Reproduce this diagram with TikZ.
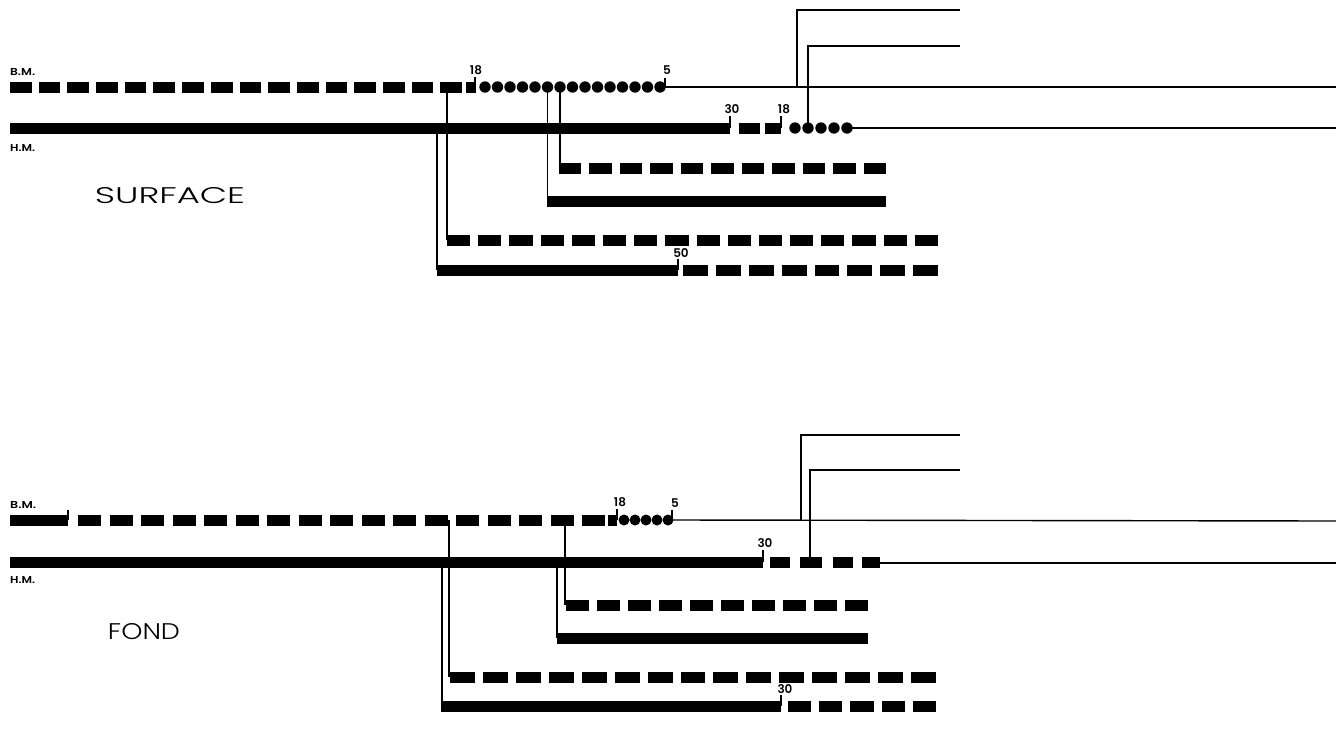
\documentclass[tikz,border=0pt]{standalone}
\usepackage{fontspec}
\newfontfamily\titlefont{Poppins}[UprightFont=* Light]
\newfontfamily\lblfont{Poppins}[UprightFont=* SemiBold]
\newcommand\dashrow[5]{% y, x0, x1, n, gap
  \pgfmathsetmacro\mydw{(#3-#2-(#4-1)*#5)/#4}
  \foreach \i in {1,...,#4}{%
    \pgfmathsetmacro\myxa{#2+(\i-1)*(\mydw+#5)}
    \fill[black] (\myxa,#1-5.5) rectangle ++(\mydw,11);
  }%
}
\tikzset{
  wire/.style={line width=1.4pt, black},
  ticks/.style={line width=1.2pt, black},
  lbl/.style={inner sep=0pt},
  num/.style={font=\lblfont\fontsize{12}{12}\selectfont, inner sep=0pt},
  ttl/.style={inner sep=0pt},
}
\begin{document}
\begin{tikzpicture}[x=1pt,y=-1pt]
\useasboundingbox (0,0) rectangle (1336,731);
\fill[white] (0,0) rectangle (1336,731);

% ================= SURFACE =================
\node[lbl, anchor=west] (bmA) at (10,72) {\resizebox{25pt}{7pt}{\lblfont B.M.}};
\node[lbl, anchor=west] (hmA) at (10,148) {\resizebox{25pt}{7pt}{\lblfont H.M.}};
\node[ttl] (surf) at (170,196) {\resizebox{150pt}{16pt}{\titlefont SURFACE}};

% B.M. line
\dashrow{87}{10}{462}{16}{7}
\fill (466,81.5) rectangle (476,92.5);
\coordinate (tA18) at (475,87);
\coordinate (tA18t) at (475,77);
\draw[ticks] (tA18) -- (tA18t);
\node[num, anchor=south] (nA18) at (476,75) {18};
\foreach \i in {0,...,14} \fill ({485+12.5*\i},87) circle (5.7);
\coordinate (tA5) at (665,87);
\coordinate (tA5t) at (665,78);
\draw[ticks] (tA5) -- (tA5t);
\node[num, anchor=south] (nA5) at (667,75) {5};
\coordinate (bmAend) at (1336,87);
\draw[wire] (tA5) -- (bmAend);

% H.M. line
\fill (10,122.5) rectangle (730,133.5);
\draw[ticks] (730,128) -- (730,116);
\node[num, anchor=south] (nA30) at (732,114) {30};
\fill (739,122.5) rectangle (760,133.5);
\fill (765,122.5) rectangle (781,133.5);
\draw[ticks] (781,128) -- (781,116);
\node[num, anchor=south] (nA18b) at (784,114) {18};
\foreach \x in {795,808,821,834,847} \fill (\x,128) circle (5.7);
\coordinate (hmAdot) at (847,128);
\coordinate (hmAend) at (1336,128);
\draw[wire] (hmAdot) -- (hmAend);

% right branches
\coordinate (rA1) at (797,87);  \coordinate (rA1e) at (960,10);
\coordinate (rA2) at (808,128); \coordinate (rA2e) at (960,46);
\draw[wire] (rA1) |- (rA1e);
\draw[wire] (rA2) |- (rA2e);

% lower branches
\coordinate (dA1) at (437,128); \coordinate (dA1e) at (437,270);
\draw[wire] (dA1) -- (dA1e);
\fill (437,264.5) rectangle (678,275.5);
\draw[ticks] (678,270) -- (678,259);
\node[num, anchor=south] (nA50) at (681,258) {50};
\dashrow{270}{683}{938}{8}{8}

\coordinate (dA2) at (447,87); \coordinate (dA2e) at (447,240);
\draw[wire] (dA2) -- (dA2e);
\dashrow{240}{447}{938}{16}{8}

\coordinate (dA3) at (547.5,87); \coordinate (dA3e) at (547.5,201);
\draw[wire] (dA3) -- (dA3e);
\fill (547,195.5) rectangle (886,206.5);

\coordinate (dA4) at (560,87); \coordinate (dA4e) at (560,168);
\draw[wire] (dA4) -- (dA4e);
\dashrow{168}{559}{886}{11}{8}

% ================= FOND =================
\node[lbl, anchor=west] (bmB) at (10,505) {\resizebox{26pt}{7pt}{\lblfont B.M.}};
\node[lbl, anchor=west] (hmB) at (10,580) {\resizebox{25pt}{7pt}{\lblfont H.M.}};
\node[ttl] (fond) at (144,632) {\resizebox{72pt}{16pt}{\titlefont FOND}};

% B.M. line
\fill (10,514.5) rectangle (68,525.5);
\draw[ticks] (68,520) -- (68,510);
\dashrow{520}{78}{605}{17}{8.5}
\fill (608,514.5) rectangle (617,525.5);
\draw[ticks] (617,520) -- (617,509);
\node[num, anchor=south] (nB18) at (620,507) {18};
\foreach \x in {624,635,646,657,668} \fill (\x,520) circle (5.5);
\coordinate (tB5) at (672,520);
\draw[ticks] (tB5) -- (672,510);
\node[num, anchor=south] (nB5) at (675,508) {5};
\coordinate (bmBend) at (1336,521);
\draw[wire] (tB5) -- (bmBend);

% H.M. line
\fill (10,556.5) rectangle (763,567.5);
\draw[ticks] (763,562) -- (763,550);
\node[num, anchor=south] (nB30) at (765,548) {30};
\fill (770,556.5) rectangle (790,567.5);
\fill (800,556.5) rectangle (822,567.5);
\fill (833,556.5) rectangle (853,567.5);
\fill (862,556.5) rectangle (880,567.5);
\coordinate (hmBdash) at (880,563);
\coordinate (hmBend) at (1336,563);
\draw[wire] (hmBdash) -- (hmBend);

% right branches
\coordinate (rB1) at (801,520);  \coordinate (rB1e) at (960,435);
\coordinate (rB2) at (810,562);  \coordinate (rB2e) at (960,470);
\draw[wire] (rB1) |- (rB1e);
\draw[wire] (rB2) |- (rB2e);

% lower branches
\coordinate (dB1) at (442,562); \coordinate (dB1e) at (442,706);
\draw[wire] (dB1) -- (dB1e);
\fill (441,700.5) rectangle (781,711.5);
\draw[ticks] (781,706) -- (781,695);
\node[num, anchor=south] (nB30b) at (785,694) {30};
\dashrow{706}{788}{936}{5}{8}

\coordinate (dB2) at (449,520); \coordinate (dB2e) at (449,677);
\draw[wire] (dB2) -- (dB2e);
\dashrow{677}{450}{936}{15}{8}

\coordinate (dB3) at (557,562); \coordinate (dB3e) at (557,638);
\draw[wire] (dB3) -- (dB3e);
\fill (557,632.5) rectangle (868,643.5);

\coordinate (dB4) at (565,520); \coordinate (dB4e) at (565,605);
\draw[wire] (dB4) -- (dB4e);
\dashrow{605}{566}{868}{10}{8}
\end{tikzpicture}
\end{document}
